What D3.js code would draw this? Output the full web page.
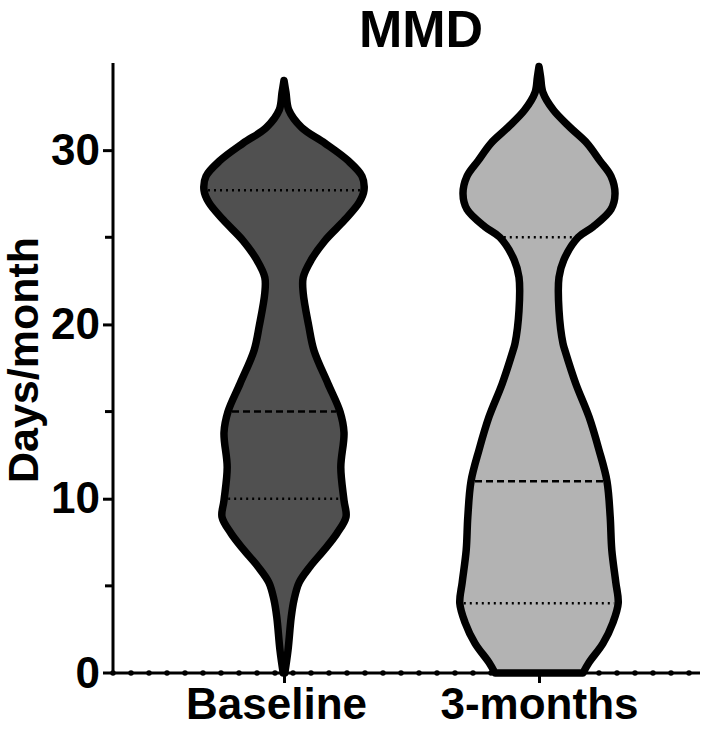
<!DOCTYPE html>
<html><head><meta charset="utf-8">
<script src="https://cdn.jsdelivr.net/npm/d3@7"></script>
<style>body{margin:0;background:#fff}svg{display:block}</style>
</head><body>
<svg id="chart" width="709" height="730"></svg>
<script>
const title = "MMD";
const yLabel = "Days/month";
const categories = ["Baseline", "3-months"];
const yTicks = [0, 10, 20, 30];
const yMinorTicks = [5, 15, 25];

// violin profiles: value levels and relative density (0-1)
const baselineLevels = [34.0, 33.3, 32.3, 31.3, 30.4, 29.4, 28.5, 27.7, 27.0, 26.0, 24.8, 23.7, 22.7, 21.8, 19.9, 18.5, 16.6, 15.0, 13.8, 11.8, 9.9, 8.95, 8.0, 7.05, 6.1, 5.2, 4.2, 3.2, 1.3, 0];
const baselineDensity = [0, 0.025, 0.06, 0.22, 0.51, 0.80, 0.975, 1.0, 0.94, 0.76, 0.51, 0.34, 0.24, 0.24, 0.31, 0.375, 0.55, 0.70, 0.75, 0.71, 0.75, 0.775, 0.66, 0.50, 0.325, 0.19, 0.125, 0.09, 0.05, 0.01];
const threeMonthLevels = [34.8, 34.2, 33.3, 32.3, 31.3, 30.4, 29.4, 28.5, 27.5, 26.6, 25.6, 25.0, 23.7, 22.7, 20.8, 18.9, 18.5, 16.6, 14.7, 12.8, 11.0, 8.95, 7.05, 5.2, 4.0, 2.9, 1.7, 0.6, 0];
const threeMonthDensity = [0, 0.02, 0.05, 0.18, 0.39, 0.60, 0.76, 0.90, 0.95, 0.90, 0.675, 0.49, 0.31, 0.25, 0.25, 0.30, 0.325, 0.46, 0.625, 0.75, 0.85, 0.89, 0.91, 0.96, 0.99, 0.925, 0.80, 0.625, 0.55];

const q1Values = [10, 4];
const medianValues = [15, 11];
const q3Values = [27.7, 25];
const fills = ["#505050", "#b3b3b3"];

const groups = [
  {name: categories[0], levels: baselineLevels, density: baselineDensity, q1: q1Values[0], med: medianValues[0], q3: q3Values[0], fill: fills[0]},
  {name: categories[1], levels: threeMonthLevels, density: threeMonthDensity, q1: q1Values[1], med: medianValues[1], q3: q3Values[1], fill: fills[1]}
];

const svg = d3.select("#chart");
const font = "'Liberation Sans', Arial, Helvetica, sans-serif";

const y = d3.scaleLinear().domain([0, 35]).range([673, 63]);
const x = d3.scalePoint().domain(categories).range([284, 539]);
const w = d3.scaleLinear().domain([0, 1]).range([0, 80]);
const axisLeft = 113, axisRight = 700;

// violins
groups.forEach(g => {
  const cx = x(g.name);
  const pts = g.levels.map((v, i) => ({v, d: g.density[i]}));
  const area = d3.area()
    .y(d => y(d.v))
    .x0(d => cx - w(d.d))
    .x1(d => cx + w(d.d))
    .curve(d3.curveCatmullRom.alpha(0.5));
  svg.append("path")
    .attr("d", area(pts))
    .attr("fill", g.fill)
    .attr("stroke", "#000")
    .attr("stroke-width", 7.5)
    .attr("stroke-linejoin", "round");

  const dens = d3.scaleLinear().domain(g.levels).range(g.density);
  const lines = [
    {v: g.q3, dash: "2,4"},
    {v: g.med, dash: "7,4"},
    {v: g.q1, dash: "2,4"}
  ];
  lines.forEach(l => {
    const hw = w(dens(l.v)) - 4;
    svg.append("line")
      .attr("x1", cx - hw).attr("x2", cx + hw)
      .attr("y1", y(l.v)).attr("y2", y(l.v))
      .attr("stroke", "#000")
      .attr("stroke-width", 2.5)
      .attr("stroke-dasharray", l.dash);
  });
});

// x axis with dotted markers
svg.append("line")
  .attr("x1", axisLeft - 10).attr("x2", axisRight)
  .attr("y1", y(0)).attr("y2", y(0))
  .attr("stroke", "#000").attr("stroke-width", 3);
svg.append("line")
  .attr("x1", axisLeft).attr("x2", axisRight)
  .attr("y1", y(0)).attr("y2", y(0))
  .attr("stroke", "#000").attr("stroke-width", 5.5)
  .attr("stroke-linecap", "round")
  .attr("stroke-dasharray", "0,18");

const xAxis = svg.append("g").attr("transform", `translate(0,${y(0)})`)
  .call(d3.axisBottom(x).tickSize(10).tickSizeOuter(0).tickPadding(5));
xAxis.select(".domain").remove();
xAxis.selectAll(".tick line").attr("stroke", "#000").attr("stroke-width", 3);
xAxis.selectAll(".tick text")
  .attr("font-family", font).attr("font-weight", "bold").attr("font-size", 44)
  .attr("fill", "#000").attr("dy", "0.71em")
  .attr("dx", (d, i) => i === 0 ? -8 : 0);

// y axis
const yAxis = svg.append("g").attr("transform", `translate(${axisLeft},0)`)
  .call(d3.axisLeft(y).tickValues(yTicks).tickSize(10).tickSizeOuter(0).tickPadding(3));
yAxis.select(".domain").attr("stroke", "#000").attr("stroke-width", 3)
  .attr("d", `M0,${y(35)}V${y(0)}`);
yAxis.selectAll(".tick line").attr("stroke", "#000").attr("stroke-width", 3);
yAxis.selectAll(".tick text")
  .attr("font-family", font).attr("font-weight", "bold").attr("font-size", 44)
  .attr("fill", "#000");
yAxis.selectAll(".tick").filter(d => d === 0).select("line").remove();

svg.append("g").attr("transform", `translate(${axisLeft},0)`)
  .selectAll("line").data(yMinorTicks).join("line")
  .attr("x1", -8).attr("x2", 0)
  .attr("y1", d => y(d)).attr("y2", d => y(d))
  .attr("stroke", "#000").attr("stroke-width", 3);

// titles
svg.append("text")
  .attr("x", 421).attr("y", 47)
  .attr("text-anchor", "middle")
  .attr("font-family", font).attr("font-weight", "bold").attr("font-size", 52)
  .text(title);

svg.append("text")
  .attr("transform", `translate(38,${(y(0) + y(35)) / 2 - 8}) rotate(-90)`)
  .attr("text-anchor", "middle")
  .attr("font-family", font).attr("font-weight", "bold").attr("font-size", 43)
  .text(yLabel);
</script>
</body></html>
